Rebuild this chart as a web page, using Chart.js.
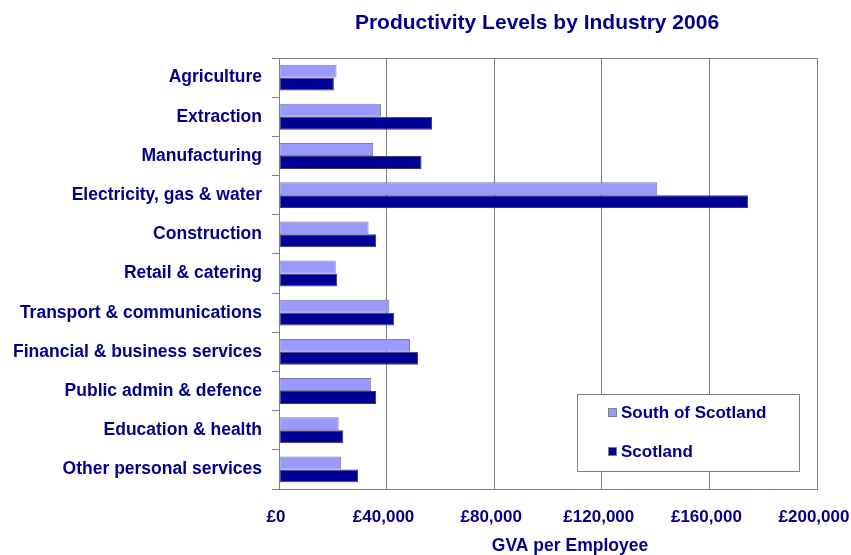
<!DOCTYPE html>
<html>
<head>
<meta charset="utf-8">
<script src="https://cdn.jsdelivr.net/npm/chart.js@4/dist/chart.umd.min.js"></script>
<style>
  html, body { margin: 0; padding: 0; background: #fff; }
  #wrap { width: 851px; height: 555px; }
</style>
</head>
<body>
<div id="wrap"><canvas id="chartGva"></canvas></div>
<script>
// industries, top to bottom
const industries = [
    "Agriculture",
    "Extraction",
    "Manufacturing",
    "Electricity, gas & water",
    "Construction",
    "Retail & catering",
    "Transport & communications",
    "Financial & business services",
    "Public admin & defence",
    "Education & health",
    "Other personal services"
];

// GVA per employee (£)
const southOfScotland = [21400, 37900, 35000, 140600, 33300, 21100, 41000, 48700, 34300, 22200, 23100];
const scotland = [20400, 56900, 53000, 174400, 36100, 21600, 42800, 51700, 36100, 23900, 29400];

const xTicks = [0, 40000, 80000, 120000, 160000, 200000];

const navy = "#00008b";
const font = "'Liberation Sans', Arial, sans-serif";

// title, axis title, plot frame and legend box
const extras = {
    id: "extras",
    afterDraw(chart) {
        const c = chart.ctx;
        const a = chart.chartArea;
        c.save();
        c.strokeStyle = "#808080";
        c.lineWidth = 1;
        c.strokeRect(Math.round(a.left) + 0.5, Math.round(a.top) + 0.5, Math.round(a.right - a.left), Math.round(a.bottom - a.top));

        c.fillStyle = navy;
        c.font = "bold 21px " + font;
        c.textAlign = "center";
        c.textBaseline = "middle";
        c.fillText("Productivity Levels by Industry 2006", 537, 23);

        c.font = "bold 17.5px " + font;
        c.fillText("GVA per Employee", 570, 546);

        // legend
        c.fillStyle = "#fff";
        c.fillRect(577, 394, 222, 77);
        c.strokeRect(577.5, 394.5, 222, 77);
        const rows = [413, 452];
        c.font = "bold 17px " + font;
        c.textAlign = "left";
        chart.data.datasets.forEach((ds, i) => {
            c.fillStyle = ds.backgroundColor;
            c.fillRect(608, rows[i] - 5, 9, 9);
            c.strokeStyle = "#808080";
            c.strokeRect(608.5, rows[i] - 4.5, 8, 8);
            c.fillStyle = navy;
            c.fillText(ds.label, 621, rows[i]);
        });
        c.restore();
    }
};

new Chart(document.getElementById("chartGva"), {
    type: "bar",
    data: {
        labels: industries,
        datasets: [{
            label: "South of Scotland",
            data: southOfScotland,
            backgroundColor: "#9999ff",
            borderColor: "#7f7f9f",
            borderWidth: 1,
            borderSkipped: false
        }, {
            label: "Scotland",
            data: scotland,
            backgroundColor: "#000096",
            borderColor: "#3a3a70",
            borderWidth: 1,
            borderSkipped: false
        }]
    },
    options: {
        indexAxis: "y",
        responsive: true,
        maintainAspectRatio: false,
        animation: false,
        layout: { padding: { top: 58, right: 34, left: 0, bottom: 0 } },
        datasets: { bar: { categoryPercentage: 0.66, barPercentage: 1 } },
        plugins: {
            legend: { display: false },
            title: { display: false },
            tooltip: { enabled: false }
        },
        scales: {
            x: {
                min: 0,
                max: 200000,
                afterBuildTicks(scale) {
                    scale.ticks = xTicks.map(v => ({ value: v }));
                },
                afterFit(scale) {
                    scale.height = 66;
                    scale.paddingLeft = 0;
                    scale.paddingRight = 0;
                },
                grid: { color: "#808080", drawTicks: false },
                border: { color: "#808080" },
                ticks: {
                    padding: 18,
                    labelOffset: -3,
                    color: navy,
                    font: { family: font, size: 17, weight: "bold" },
                    callback: v => "£" + v.toLocaleString("en-GB")
                }
            },
            y: {
                afterFit(scale) { scale.width = 279; },
                grid: { drawOnChartArea: false, color: "#808080", tickLength: 7 },
                border: { color: "#808080" },
                ticks: {
                    padding: 10,
                    color: navy,
                    font: { family: font, size: 17.5, weight: "bold" }
                }
            }
        }
    },
    plugins: [extras]
});
</script>
</body>
</html>
